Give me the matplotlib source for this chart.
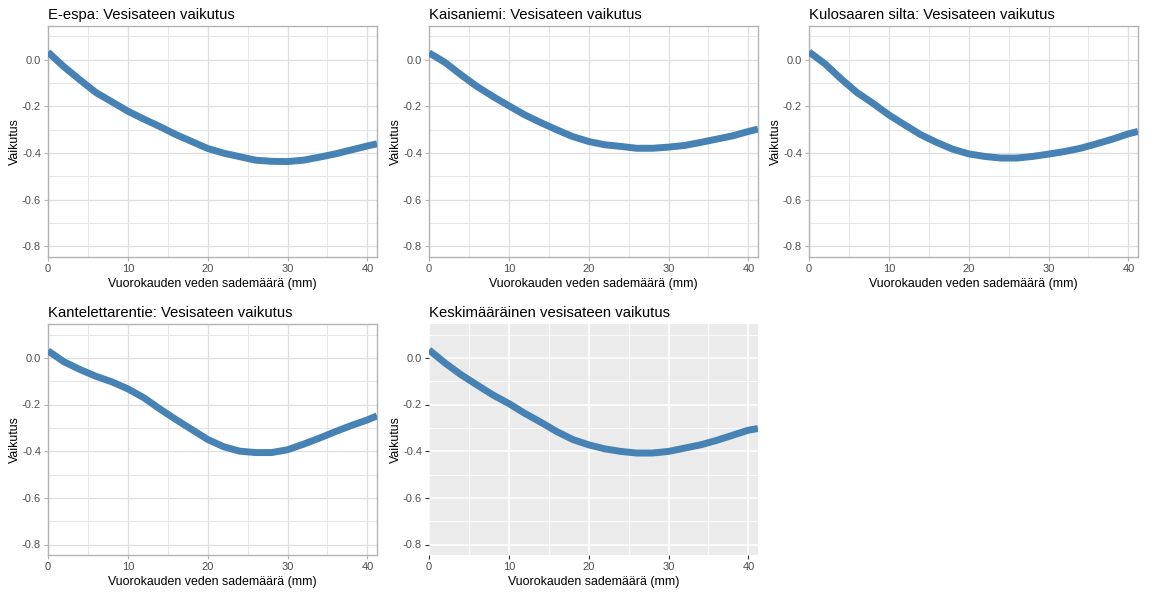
import matplotlib
matplotlib.use("Agg")
import matplotlib.pyplot as plt
import numpy as np

plt.rcParams['font.family'] = ['Liberation Sans', 'DejaVu Sans']
plt.rcParams['axes.unicode_minus'] = False

x = [0, 2, 4, 6, 8, 10, 12, 14, 16, 18, 20, 22, 24, 26, 28, 30, 32, 34, 36, 38, 40, 41.2]

y_espa = [0.033, -0.03, -0.086, -0.14, -0.18, -0.22, -0.254, -0.286, -0.32, -0.35, -0.38,
          -0.40, -0.415, -0.43, -0.435, -0.436, -0.43, -0.417, -0.403, -0.386, -0.369, -0.36]
y_kaisaniemi = [0.03, -0.011, -0.064, -0.114, -0.157, -0.197, -0.236, -0.269, -0.30, -0.329, -0.35,
                -0.364, -0.371, -0.379, -0.379, -0.374, -0.367, -0.354, -0.34, -0.326, -0.307, -0.297]
y_kulosaari = [0.034, -0.017, -0.081, -0.14, -0.186, -0.236, -0.279, -0.321, -0.354, -0.383, -0.403,
               -0.414, -0.421, -0.421, -0.414, -0.404, -0.393, -0.379, -0.36, -0.34, -0.317, -0.307]
y_kantelettar = [0.03, -0.017, -0.05, -0.079, -0.103, -0.133, -0.171, -0.219, -0.264, -0.307, -0.35,
                 -0.381, -0.40, -0.406, -0.406, -0.394, -0.37, -0.344, -0.316, -0.29, -0.266, -0.249]
y_keskiarvo = [0.034, -0.022, -0.072, -0.116, -0.159, -0.196, -0.238, -0.276, -0.316, -0.35, -0.373,
               -0.39, -0.401, -0.408, -0.408, -0.401, -0.387, -0.373, -0.354, -0.332, -0.31, -0.303]

titles = ["E-espa: Vesisateen vaikutus", "Kaisaniemi: Vesisateen vaikutus",
          "Kulosaaren silta: Vesisateen vaikutus", "Kantelettarentie: Vesisateen vaikutus",
          "Keskimääräinen vesisateen vaikutus"]
xlabels = ["Vuorokauden veden sademäärä (mm)"] * 4 + ["Vuorokauden sademäärä (mm)"]
ylabel = "Vaikutus"
series = [y_espa, y_kaisaniemi, y_kulosaari, y_kantelettar, y_keskiarvo]

xticks = [0, 10, 20, 30, 40]
yticks = [-0.8, -0.6, -0.4, -0.2, 0.0]
yticklabels = ["-0.8", "-0.6", "-0.4", "-0.2", "0.0"]

W, H = 1150, 595
fig = plt.figure(figsize=(W / 100, H / 100), dpi=100)

lefts = [48, 429, 809, 48, 429]
tops = [26, 26, 26, 324, 324]
pw, ph = 329, 231

for i in range(5):
    ax = fig.add_axes([lefts[i] / W, (H - tops[i] - ph) / H, pw / W, ph / H])
    gray_theme = (i == 4)
    if gray_theme:
        ax.set_facecolor('#ebebeb')
        gcol_major, gcol_minor = 'white', 'white'
        for s in ax.spines.values():
            s.set_visible(False)
        tickcol = '#333333'
        gw_major, gw_minor = 1.1, 0.6
    else:
        ax.set_facecolor('white')
        gcol_major, gcol_minor = '#dfdfdf', '#e6e6e6'
        for s in ax.spines.values():
            s.set_color('#b3b3b3')
            s.set_linewidth(1.0)
        tickcol = '#b3b3b3'
        gw_major, gw_minor = 0.9, 0.75
    ax.set_xlim(0, 41.2)
    ax.set_ylim(-0.845, 0.145)
    ax.set_xticks(xticks)
    ax.set_xticks([5, 15, 25, 35], minor=True)
    ax.set_yticks(yticks)
    ax.set_yticklabels(yticklabels)
    ax.set_yticks([-0.7, -0.5, -0.3, -0.1, 0.1], minor=True)
    ax.grid(True, which='major', color=gcol_major, linewidth=gw_major, zorder=0)
    ax.grid(True, which='minor', color=gcol_minor, linewidth=gw_minor, zorder=0)
    ax.set_axisbelow(True)
    ax.tick_params(which='major', length=3, width=0.8, color=tickcol,
                   labelsize=8, labelcolor='#4d4d4d', pad=2)
    ax.tick_params(which='minor', length=0)
    ax.plot(x, series[i], color='#4682b4', linewidth=5, solid_capstyle='butt',
            solid_joinstyle='round', zorder=3)
    ax.set_title(titles[i], loc='left', fontsize=10.7, color='black', pad=5)
    ax.set_xlabel(xlabels[i], fontsize=8.9, labelpad=3)
    ax.set_ylabel(ylabel, fontsize=8.9, labelpad=0.5)

fig.savefig("out.png", dpi=100)
